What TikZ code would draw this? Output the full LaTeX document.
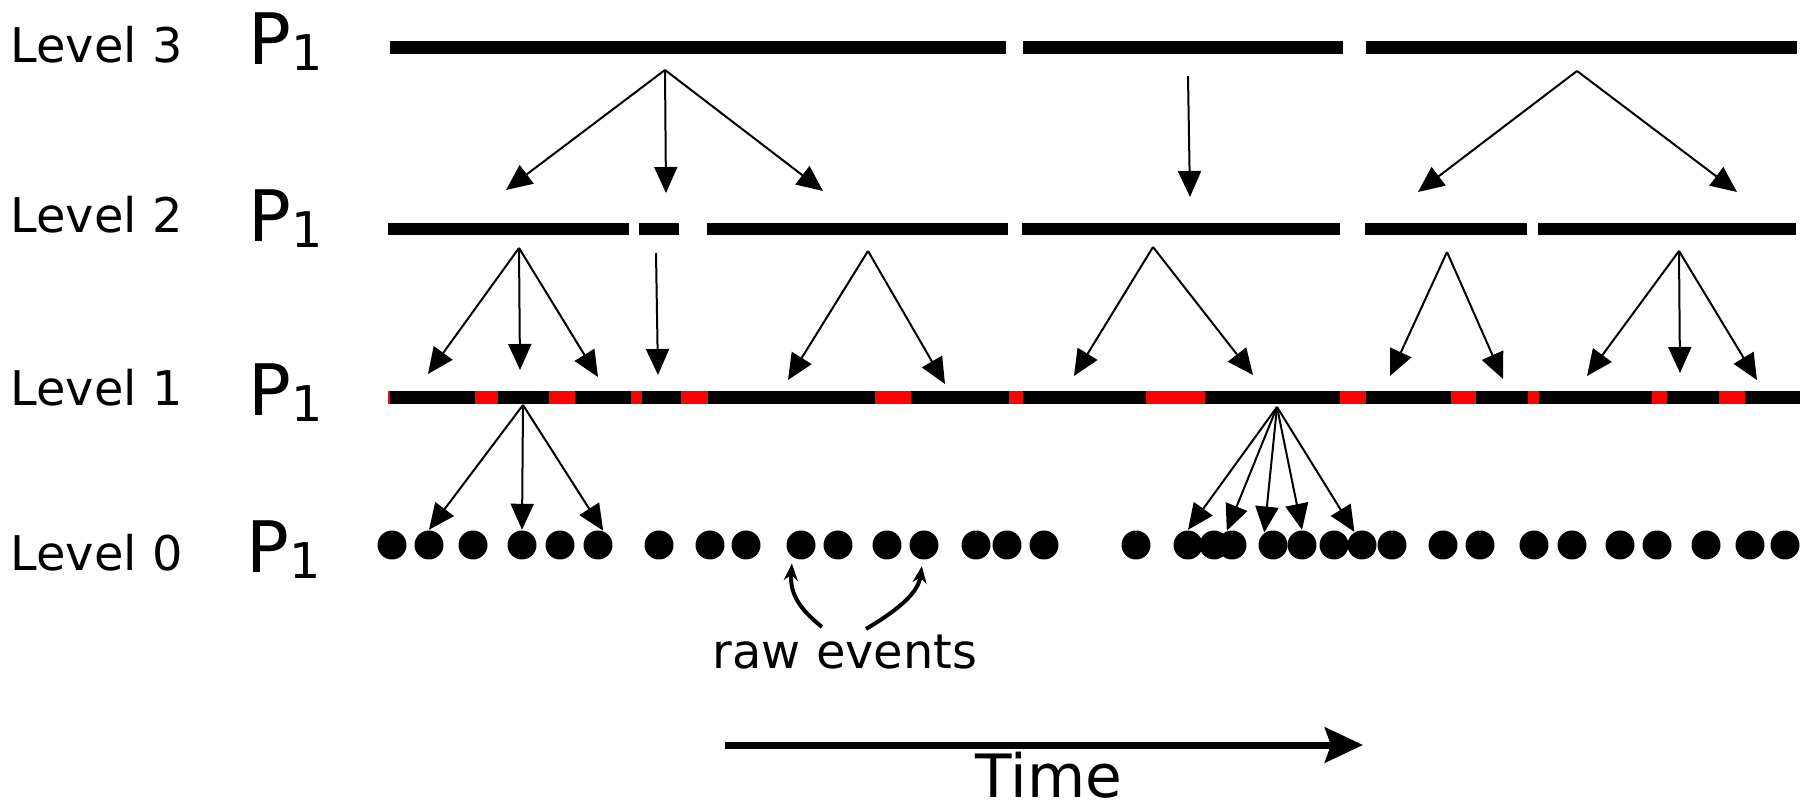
\documentclass[tikz,border=0pt]{standalone}
\usepackage{fontspec}
\setmainfont{DejaVu Sans}
\usetikzlibrary{arrows.meta, calc}

% P with its subscript index
\newcommand{\pone}{P\raisebox{-0.6mm}{\fontsize{14}{14}\selectfont 1}}

\tikzset{
  levelbar/.style={line width=1.25mm},
  fan/.style={line width=0.2mm, -{Triangle[length=2.6mm, width=2.3mm]}},
  event/.style={circle, fill=black, inner sep=0pt, minimum size=2.9mm},
  lvl/.style={anchor=base west, inner sep=0pt, font=\fontsize{13.6}{16}\selectfont},
  proc/.style={anchor=base west, inner sep=0pt, font=\fontsize{20.2}{24}\selectfont},
  rawarrow/.style={line width=0.4mm, -{Stealth[length=1.7mm, width=1.4mm]}, shorten >=0.6mm},
  timearrow/.style={line width=0.7mm, -{Stealth[length=3.8mm, width=3.5mm, inset=0.6mm]}},
}

\begin{document}
\begin{tikzpicture}[x=0.1mm, y=-0.1mm]
\useasboundingbox (0,0) rectangle (1805,808);

% row labels
\node[lvl] (lv3) at (10,63) {Level 3};
\node[lvl] (lv2) at (10,233) {Level 2};
\node[lvl] (lv1) at (10,406) {Level 1};
\node[lvl] (lv0) at (10,571) {Level 0};
\node[proc] (p3) at (248,65) {\pone};
\node[proc] (p2) at (248,242) {\pone};
\node[proc] (p1) at (248,416) {\pone};
\node[proc] (p0) at (246,573) {\pone};

% level 3 and level 2 spans
\foreach \a/\b in {390/1006, 1023/1343, 1366/1797}
  \draw[levelbar] (\a,47.5) -- (\b,47.5);
\foreach \a/\b in {388/629, 639/679, 707/1008, 1022/1340, 1365/1527, 1538/1796}
  \draw[levelbar] (\a,229) -- (\b,229);

% level 1: red gaps under the black spans
\draw[levelbar, red] (388,397.5) -- (1800,397.5);
\foreach \a/\b in {390/475, 498/549, 575/631, 642/681, 708/875, 911/1009, 1023/1146,
                   1205/1340, 1366/1451, 1476/1528, 1539/1652, 1667/1719, 1745/1800}
  \draw[levelbar] (\a,397.5) -- (\b,397.5);

% level 0: raw events
\foreach \x [count=\i] in {392,429,473,522,560,598,659,710,746,801,838,887,924,976,1007,1044,
                           1136,1188,1214,1232,1273,1302,1334,1362,1392,1443,1480,1534,1572,
                           1620,1657,1706,1750,1785}
  \node[event] (e\i) at (\x,545) {};

% fan-out points below the spans
\coordinate (s3a) at (665,70);
\coordinate (s3b) at (1188,76);
\coordinate (s3c) at (1577,71);
\coordinate (s2a) at (519,248);
\coordinate (s2b) at (656,253);
\coordinate (s2c) at (868,251);
\coordinate (s2d) at (1153,247);
\coordinate (s2e) at (1447,252);
\coordinate (s2f) at (1679,251);
\coordinate (s1a) at (523,405);
\coordinate (s1b) at (1277,407);

% arrow ends above the next level
\foreach \n/\x/\y in {t31/506/190, t32/666/193, t33/823/191, t34/1190/197, t35/1418/192, t36/1737/192,
                      t21/428/374, t22/520/370, t23/598/377, t24/658/375, t25/788/380, t26/945/384,
                      t27/1074/376, t28/1253/375, t29/1390/376, t210/1503/379, t211/1587/376,
                      t212/1680/373, t213/1757/380}
  \coordinate (\n) at (\x,\y);

\path[fan]
  (s3a) edge (t31) edge (t32) edge (t33)
  (s3b) edge (t34)
  (s3c) edge (t35) edge (t36)
  (s2a) edge (t21) edge (t22) edge (t23)
  (s2b) edge (t24)
  (s2c) edge (t25) edge (t26)
  (s2d) edge (t27) edge (t28)
  (s2e) edge (t29) edge (t210)
  (s2f) edge (t211) edge (t212) edge (t213)
  (s1a) edge (e2.north) edge (e4.north) edge (e6.70)
  (s1b) edge (e18.north) edge (e20.110) edge (e21.125) edge (e22.north) edge (e24.120);

% label for the events
\node[lvl, anchor=base] (raw) at (845,668) {raw events};
\draw[rawarrow] ([shift={(-23,-41)}]raw.base) .. controls (797,607) and (790,592) .. (e10.235);
\draw[rawarrow] ([shift={(21,-39)}]raw.base) .. controls (896,611) and (918,594) .. (e13.265);

% time axis
\coordinate (time0) at (725,745);
\coordinate (time1) at (1363,745);
\draw[timearrow] (time0) -- (time1);
\node[anchor=base, inner sep=0pt, font=\fontsize{17}{20}\selectfont] (time) at (1049,797) {Time};

\end{tikzpicture}
\end{document}
